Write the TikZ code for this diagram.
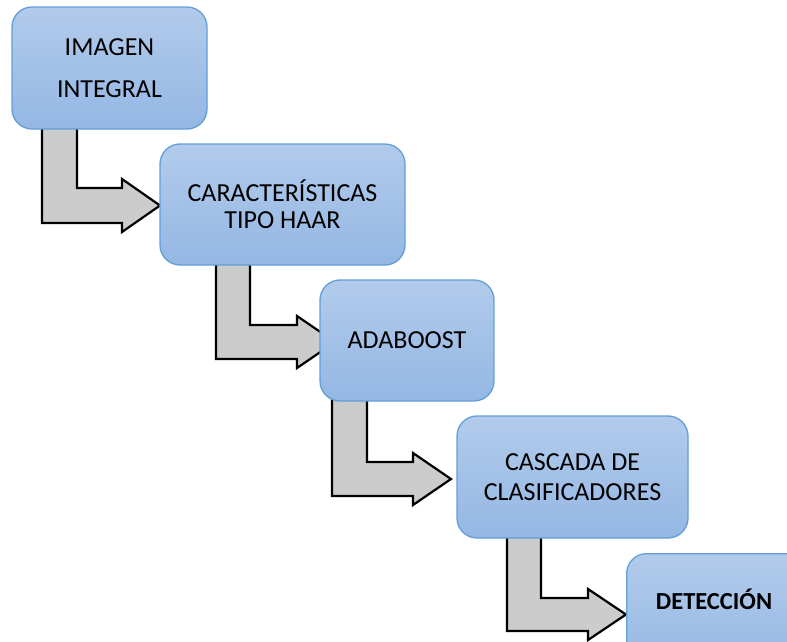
\documentclass[tikz,border=0pt]{standalone}
\usepackage{fontspec}
\setmainfont{Carlito}
\definecolor{boxtop}{RGB}{178,203,235}
\definecolor{boxbot}{RGB}{148,183,228}
\definecolor{boxline}{RGB}{98,158,215}
\definecolor{arrowfill}{RGB}{204,204,204}
\tikzset{
  stage/.style={draw=boxline, line width=1.3pt, rounded corners=20pt,
    top color=boxtop, bottom color=boxbot, text=black, align=center,
    inner sep=0pt, font=\fontsize{26}{31}\selectfont},
  bentarrow/.style={draw=black, fill=arrowfill, line width=2.2pt, line join=miter}
}
\begin{document}
\begin{tikzpicture}[x=1pt, y=-1pt]
\useasboundingbox (0,0) rectangle (787,641);
\clip (0,0) rectangle (787,641);

% coordinates where each bent arrow points
\coordinate (t1) at (160,205.5);
\coordinate (t2) at (335,342);
\coordinate (t3) at (451,479);
\coordinate (t4) at (626,614.5);

% bent arrows (drawn first, so the boxes sit on top of them)
\draw[bentarrow] (42,110) -- (42,223) -- (122,223) -- (122,232) -- (t1)
  -- (122,179) -- (122,188) -- (77,188) -- (77,110) -- cycle;
\draw[bentarrow] (216,250) -- (216,359) -- (297,359) -- (297,368) -- (t2)
  -- (297,316) -- (297,325) -- (250,325) -- (250,250) -- cycle;
\draw[bentarrow] (332,390) -- (332,496) -- (413,496) -- (413,505) -- (t3)
  -- (413,453) -- (413,462) -- (367,462) -- (367,390) -- cycle;
\draw[bentarrow] (507,525) -- (507,631) -- (588,631) -- (588,640) -- (t4)
  -- (588,589) -- (588,598) -- (541,598) -- (541,525) -- cycle;

% processing stages
\node[stage, minimum width=195pt, minimum height=122pt] (b1) at (109.5,68)
  {IMAGEN\\[11pt]INTEGRAL};
\node[stage, minimum width=245pt, minimum height=121pt] (b2) at (282.5,204.5)
  {CARACTERÍSTICAS\\[-4pt]TIPO HAAR};
\node[stage, minimum width=174pt, minimum height=121pt] (b3) at (407,340.5)
  {ADABOOST};
\node[stage, minimum width=231pt, minimum height=122pt] (b4) at (572.5,477)
  {CASCADA DE\\[-1pt]CLASIFICADORES};
\node[stage, minimum width=200pt, minimum height=122pt, anchor=north west,
  font=\fontsize{24.5}{29}\selectfont\bfseries] (b5) at (626,553) {};
\node[font=\fontsize{24.5}{29}\selectfont\bfseries, anchor=center] (l5) at (714,599)
  {DETECCIÓN};
\end{tikzpicture}
\end{document}
